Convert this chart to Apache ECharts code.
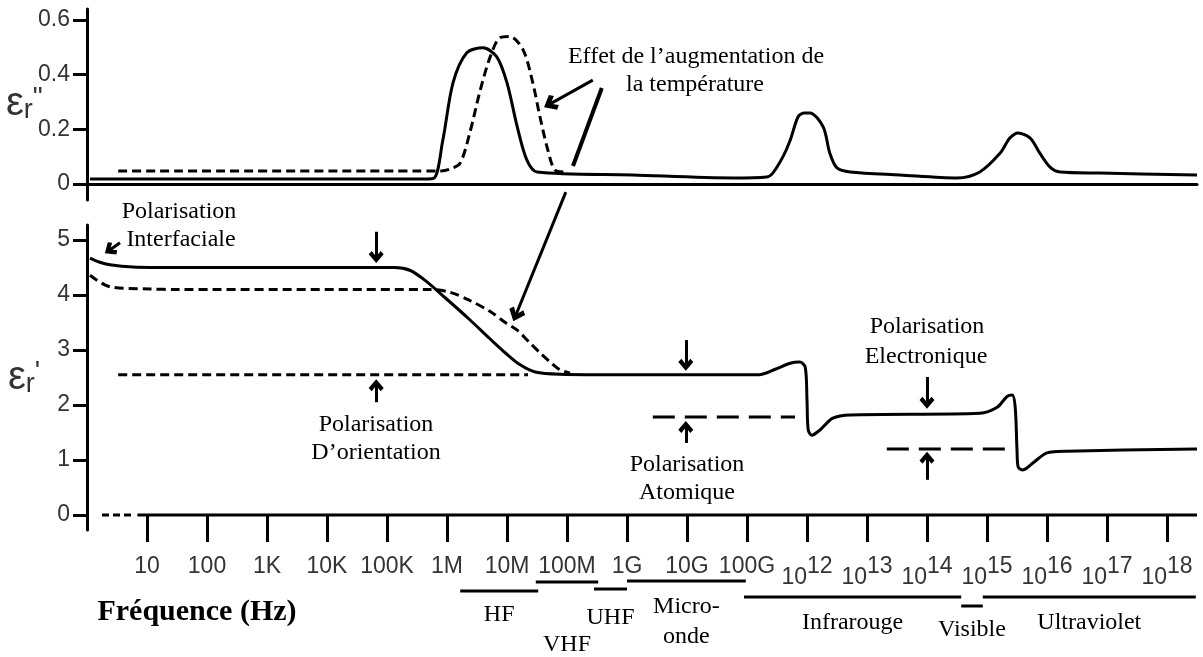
<!DOCTYPE html>
<html>
<head>
<meta charset="utf-8">
<script src="https://cdn.jsdelivr.net/npm/echarts@6/dist/echarts.min.js"></script>
<style>
  html, body { margin: 0; padding: 0; background: #fff; }
  #chart { width: 1203px; height: 657px; }
</style>
</head>
<body>
<div id="chart"></div>
<script>
// Horizontal position of every mark is log10(frequency / Hz).
const xTickValues = [1, 2, 3, 4, 5, 6, 7, 8, 9, 10, 11, 12, 13, 14, 15, 16, 17, 18];
const xTickLabels = ['10', '100', '1K', '10K', '100K', '1M', '10M', '100M', '1G', '10G', '100G',
  '10^12', '10^13', '10^14', '10^15', '10^16', '10^17', '10^18'];
const lossTicks = [0, 0.2, 0.4, 0.6];
const permTicks = [0, 1, 2, 3, 4, 5];

// εr'' (loss factor), reference temperature
const lossRoomLogF = [0.05, 5.5, 5.77, 5.93, 6.1, 6.33, 6.6, 6.83, 7.0, 7.17, 7.33, 7.5, 9.1, 10.77, 11.33,
  11.43, 11.6, 11.72, 11.85, 11.95, 12.05, 12.27, 12.38, 12.5, 12.72, 13.55, 14.5, 14.88, 15.22, 15.38,
  15.52, 15.72, 15.88, 16.05, 16.22, 16.88, 18.5];
const lossRoomVal = [0.018, 0.018, 0.02, 0.16, 0.37, 0.48, 0.498, 0.465, 0.37, 0.21, 0.088, 0.044, 0.033, 0.022, 0.026,
  0.04, 0.1, 0.16, 0.245, 0.26, 0.26, 0.209, 0.113, 0.059, 0.044, 0.033, 0.022, 0.044, 0.113, 0.168,
  0.187, 0.168, 0.113, 0.062, 0.044, 0.04, 0.033];

// εr'' at higher temperature
const lossHotLogF = [0.52, 5.9, 6.05, 6.22, 6.38, 6.55, 6.72, 6.88, 7.05, 7.27, 7.43, 7.55, 7.68, 7.8, 7.97];
const lossHotVal = [0.048, 0.048, 0.055, 0.077, 0.187, 0.34, 0.465, 0.535, 0.54, 0.49, 0.37, 0.245, 0.125, 0.051, 0.044];

// εr' (permittivity), reference temperature
const permRoomLogF = [0.05, 0.2, 0.38, 0.77, 1.5, 5.13, 5.38, 5.63, 5.97, 6.38, 6.72, 6.97, 7.22, 7.47, 7.88, 9.0,
  11.2, 11.47, 11.72, 11.88, 11.97, 12.0, 12.02, 12.08, 12.22, 12.43, 12.72, 14.88, 15.17, 15.33, 15.42,
  15.47, 15.5, 15.52, 15.6, 15.77, 16.0, 16.33, 18.5];
const permRoomVal = [4.67, 4.6, 4.55, 4.51, 4.5, 4.5, 4.45, 4.27, 3.95, 3.55, 3.2, 2.95, 2.73, 2.6, 2.56, 2.55,
  2.55, 2.65, 2.76, 2.78, 2.69, 2.09, 1.55, 1.45, 1.55, 1.76, 1.82, 1.85, 1.96, 2.15, 2.18,
  1.96, 1.18, 0.87, 0.82, 0.95, 1.13, 1.16, 1.2];

// εr' at higher temperature
const permHotLogF = [0.05, 0.38, 1.05, 1.5, 5.72, 6.05, 6.38, 6.72, 6.97, 7.17, 7.38, 7.55, 7.75, 7.88, 8.05];
const permHotVal = [4.36, 4.15, 4.11, 4.1, 4.1, 4.05, 3.9, 3.7, 3.5, 3.36, 3.13, 2.95, 2.75, 2.64, 2.58];

// Contribution levels once each mechanism has dropped out
const orientationLevel = 2.55, orientationSpan = [0.52, 7.35];
const atomicLevel = 1.78, atomicSpan = [9.43, 11.8];
const electronicLevel = 1.2, electronicSpan = [13.33, 15.35];

// Frequency bands (log10 Hz)
const bandNames = ['HF', 'VHF', 'UHF', 'Micro-\nonde', 'Infrarouge', 'Visible', 'Ultraviolet'];
const bandStart = [6.22, 7.48, 8.45, 9.0, 10.95, 14.57, 14.93];
const bandEnd = [7.52, 8.52, 9.0, 10.98, 14.57, 14.93, 18.48];

// ---- layout / styling ----
const bandBarDrop = [76, 67, 74, 66, 82, 91, 82];
const bandLabelDrop = [100, 130, 103, 107, 108, 115, 108];

const SERIF = '"Liberation Serif", "Times New Roman", serif';
const SANS = '"Liberation Sans", Arial, sans-serif';
const INK = '#000';
const TICK_INK = '#333';
const chevron = 'path://M6,0 L12,7 L9.6,9.6 L6,5.2 L2.4,9.6 L0,7 Z';

const zip = (xs, ys) => xs.map((x, i) => [x, ys[i]]);
const arrowPairs = list => list.map(([a, b]) => [{ coord: a }, { coord: b }]);

const X_MAX = 18.5;
const GRID_LEFT = 87, GRID_WIDTH = 1110;

function curve(xi, yi, pts, dashed, extra) {
  return Object.assign({
    type: 'line', xAxisIndex: xi, yAxisIndex: yi, data: pts,
    showSymbol: false, symbol: 'none', smooth: 0.3,
    silent: true, animation: false,
    lineStyle: { color: INK, width: 3, type: dashed ? [9, 5] : 'solid', cap: 'butt', join: 'round' },
    z: 3
  }, extra || {});
}

function annotations(xi, yi, pairs, style) {
  return {
    type: 'line', xAxisIndex: xi, yAxisIndex: yi, data: [], silent: true, animation: false,
    markLine: Object.assign({
      silent: true, animation: false,
      symbol: ['none', chevron], symbolSize: [15, 12],
      label: { show: false }, emphasis: { disabled: true },
      lineStyle: { color: INK, width: 3, type: 'solid' },
      data: arrowPairs(pairs)
    }, style || {})
  };
}

// arrows pointing at each polarisation level (bottom panel, εr' units)
const permArrows = [
  [[0.55, 4.95], [0.38, 4.82]],
  [[4.82, 5.15], [4.82, 4.69]],
  [[4.82, 2.05], [4.82, 2.36]],
  [[9.98, 3.18], [9.98, 2.73]],
  [[9.98, 1.31], [9.98, 1.6]],
  [[14.0, 2.51], [14.0, 2.04]],
  [[14.0, 0.64], [14.0, 1.04]]
];
const lossArrows = [[[8.43, 0.38], [7.72, 0.293]]];
const lossStroke = [[[8.58, 0.351], [8.1, 0.066]]];
const crossArrow = [[[7.98, 5.87], [7.15, 3.64]]];

function xLabelFormatter(v) {
  const s = xTickLabels[Math.round(v) - 1] || '';
  if (s.indexOf('^') >= 0) {
    const p = s.split('^');
    return '{b|' + p[0] + '}{s|' + p[1] + '}';
  }
  return s;
}

const chart = echarts.init(document.getElementById('chart'), null, { renderer: 'canvas' });

const valueAxisBase = {
  type: 'value', splitLine: { show: false }, axisPointer: { show: false }
};

const axisNameRich = {
  e: { font: '40px ' + SANS, fill: TICK_INK, verticalAlign: 'bottom' },
  r: { font: '27px ' + SANS, fill: TICK_INK, verticalAlign: 'bottom' },
  q: { font: '28px ' + SANS, fill: TICK_INK, verticalAlign: 'top' }
};

chart.setOption({
  animation: false,
  backgroundColor: '#fff',
  grid: [
    { left: GRID_LEFT, width: GRID_WIDTH, top: 9, height: 191, containLabel: false, outerBoundsMode: 'none' },
    { left: GRID_LEFT, width: GRID_WIDTH, top: 225, height: 305, containLabel: false, outerBoundsMode: 'none' },
    { left: GRID_LEFT, width: GRID_WIDTH, top: 9, height: 521, containLabel: false, outerBoundsMode: 'none' }
  ],
  xAxis: [
    Object.assign({}, valueAxisBase, {
      gridIndex: 0, min: 0, max: X_MAX,
      axisLine: { show: true, onZero: true, lineStyle: { color: INK, width: 3 } },
      axisTick: { show: false }, axisLabel: { show: false }
    }),
    Object.assign({}, valueAxisBase, {
      gridIndex: 1, min: 0, max: X_MAX,
      axisLine: { show: false, onZero: true },
      axisTick: { show: true, customValues: xTickValues, length: 27, inside: false,
        lineStyle: { color: INK, width: 3 } },
      axisLabel: {
        show: true, customValues: xTickValues, margin: 25, formatter: xLabelFormatter,
        color: TICK_INK, fontFamily: SANS, fontSize: 23,
        rich: {
          b: { fontFamily: SANS, fontSize: 23, color: TICK_INK, verticalAlign: 'bottom' },
          s: { fontFamily: SANS, fontSize: 23, color: TICK_INK, verticalAlign: 'bottom', padding: [0, 0, 11, 0] }
        }
      }
    }),
    Object.assign({}, valueAxisBase, {
      gridIndex: 2, min: 0, max: X_MAX, show: false
    })
  ],
  yAxis: [
    Object.assign({}, valueAxisBase, {
      gridIndex: 0, min: -0.0585, max: 0.6402,
      axisLine: { show: true, onZero: true, lineStyle: { color: INK, width: 3 } },
      axisTick: { show: true, customValues: lossTicks, length: 14, lineStyle: { color: INK, width: 3 } },
      axisLabel: { show: true, customValues: lossTicks, margin: 17, color: TICK_INK, fontFamily: SANS, fontSize: 23,
        formatter: v => String(Math.round(v * 10) / 10) }
    }),
    Object.assign({}, valueAxisBase, {
      gridIndex: 1, min: -0.2727, max: 5.2727,
      axisLine: { show: true, onZero: true, lineStyle: { color: INK, width: 3 } },
      axisTick: { show: true, customValues: permTicks, length: 14, lineStyle: { color: INK, width: 3 } },
      axisLabel: { show: true, customValues: permTicks, margin: 17, color: TICK_INK, fontFamily: SANS, fontSize: 23,
        formatter: v => String(Math.round(v)) }
    }),
    Object.assign({}, valueAxisBase, {
      gridIndex: 2, min: -0.2727, max: 9.2, show: false
    })
  ],
  series: [
    curve(0, 0, zip(lossRoomLogF, lossRoomVal), false),
    curve(0, 0, zip(lossHotLogF, lossHotVal), true),
    curve(1, 1, zip(permRoomLogF, permRoomVal), false),
    curve(1, 1, zip(permHotLogF, permHotVal), true),
    curve(1, 1, [[orientationSpan[0], orientationLevel], [orientationSpan[1], orientationLevel]], true, { smooth: false }),
    curve(1, 1, [[atomicSpan[0], atomicLevel], [atomicSpan[1], atomicLevel]], false,
      { smooth: false, lineStyle: { color: INK, width: 3, type: [22, 10] } }),
    curve(1, 1, [[electronicSpan[0], electronicLevel], [electronicSpan[1], electronicLevel]], false,
      { smooth: false, lineStyle: { color: INK, width: 3, type: [22, 10] } }),
    // frequency axis of the lower panel: broken stub then solid line
    curve(1, 1, [[0.25, 0], [0.8, 0]], true, { smooth: false, lineStyle: { color: INK, width: 3, type: [7, 4] } }),
    curve(1, 1, [[0.84, 0], [X_MAX, 0]], false, { smooth: false }),
    annotations(1, 1, permArrows),
    annotations(0, 0, lossArrows, { symbolSize: [17, 14] }),
    annotations(0, 0, lossStroke, { symbol: ['none', 'none'], lineStyle: { color: INK, width: 4, type: 'solid' } }),
    annotations(2, 2, crossArrow, { symbolSize: [17, 14] }),
    {
      type: 'custom', xAxisIndex: 1, yAxisIndex: 1, silent: true, animation: false, clip: false,
      data: bandStart.map((s, i) => [s, bandEnd[i], 0]),
      encode: { x: [0, 1], y: 2 },
      renderItem: function (params, api) {
        const i = params.dataIndex;
        const a = api.coord([api.value(0), 0]);
        const b = api.coord([api.value(1), 0]);
        const yb = a[1] + bandBarDrop[i];
        return {
          type: 'group',
          children: [
            { type: 'line', shape: { x1: a[0], y1: yb, x2: b[0], y2: yb }, style: { stroke: INK, lineWidth: 3 } },
            { type: 'text', x: (a[0] + b[0]) / 2, y: a[1] + bandLabelDrop[i],
              style: { text: bandNames[i], fill: INK, font: '24px ' + SERIF, align: 'center',
                verticalAlign: 'middle', lineHeight: 30 } }
          ]
        };
      }
    }
  ],
  graphic: [
    { type: 'text', x: 6, y: 104, style: { text: '{e|ε}{r|r}{q|"}', verticalAlign: 'middle', rich: axisNameRich } },
    { type: 'text', x: 8, y: 378, style: { text: "{e|ε}{r|r}{q|'}", verticalAlign: 'middle', rich: axisNameRich } },
    { type: 'text', x: 696, y: 57, style: { text: 'Effet de l’augmentation de', font: '24px ' + SERIF, fill: INK, align: 'center', verticalAlign: 'middle' } },
    { type: 'text', x: 695, y: 85, style: { text: 'la température', font: '24px ' + SERIF, fill: INK, align: 'center', verticalAlign: 'middle' } },
    { type: 'text', x: 179, y: 212, style: { text: 'Polarisation', font: '24px ' + SERIF, fill: INK, align: 'center', verticalAlign: 'middle' } },
    { type: 'text', x: 181, y: 240, style: { text: 'Interfaciale', font: '24px ' + SERIF, fill: INK, align: 'center', verticalAlign: 'middle' } },
    { type: 'text', x: 376, y: 425, style: { text: 'Polarisation', font: '24px ' + SERIF, fill: INK, align: 'center', verticalAlign: 'middle' } },
    { type: 'text', x: 376, y: 453, style: { text: 'D’orientation', font: '24px ' + SERIF, fill: INK, align: 'center', verticalAlign: 'middle' } },
    { type: 'text', x: 687, y: 465, style: { text: 'Polarisation', font: '24px ' + SERIF, fill: INK, align: 'center', verticalAlign: 'middle' } },
    { type: 'text', x: 687, y: 493, style: { text: 'Atomique', font: '24px ' + SERIF, fill: INK, align: 'center', verticalAlign: 'middle' } },
    { type: 'text', x: 927, y: 327, style: { text: 'Polarisation', font: '24px ' + SERIF, fill: INK, align: 'center', verticalAlign: 'middle' } },
    { type: 'text', x: 926, y: 357, style: { text: 'Electronique', font: '24px ' + SERIF, fill: INK, align: 'center', verticalAlign: 'middle' } },
    { type: 'text', x: 197, y: 612, style: { text: 'Fréquence (Hz)', font: 'bold 30px ' + SERIF, fill: INK, align: 'center', verticalAlign: 'middle' } }
  ]
});
</script>
</body>
</html>
